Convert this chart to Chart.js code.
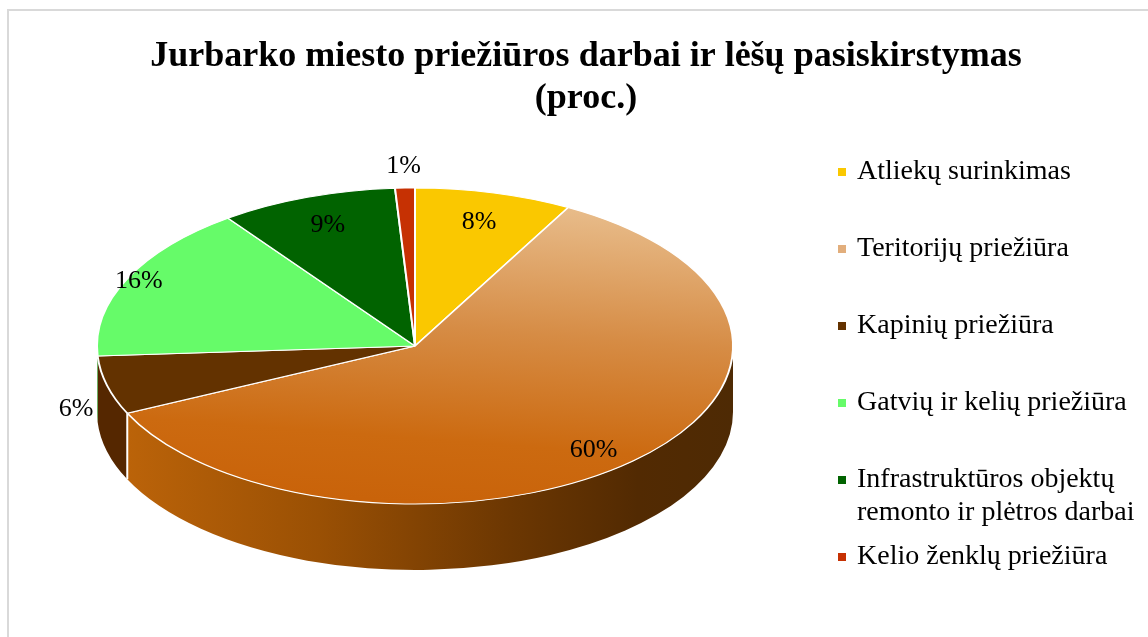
<!DOCTYPE html>
<html lang="lt">
<head>
    <meta charset="UTF-8">
    <title>Jurbarko miesto priežiūros darbai</title>
    <script src="https://cdn.jsdelivr.net/npm/chart.js"></script>
    <style>
        body { margin: 0; background: #fff; }
        canvas { display: block; }
    </style>
</head>
<body>
    <canvas id="pieChart" width="1148" height="637"></canvas>

    <script>
        // data
        const categories = [
            'Atliekų surinkimas',
            'Teritorijų priežiūra',
            'Kapinių priežiūra',
            'Gatvių ir kelių priežiūra',
            'Infrastruktūros objektų\nremonto ir plėtros darbai',
            'Kelio ženklų priežiūra'
        ];
        const shares = [8, 60, 6, 16, 9, 1];
        const shareLabels = ['8%', '60%', '6%', '16%', '9%', '1%'];
        const titleLines = ['Jurbarko miesto priežiūros darbai ir lėšų pasiskirstymas', '(proc.)'];

        // styles
        const sliceColors = ['#fac800', '#d98a45', '#633200', '#66fb69', '#016300', '#c63103'];
        const sideColors = ['#b08c00', '#8a4604', '#552700', '#3fb040', '#004000', '#8a2200'];
        const labelRadius = [0.81, 0.82, 1.1, 0.96, 0.81, 1.14];

        const radius = 318;
        const tilt = 158 / 318;
        const depth = 66;
        const serif = '"Liberation Serif", "Times New Roman", serif';

        function topGradient(chart) {
            const a = chart.chartArea;
            if (!a) return sliceColors[1];
            const ctx = chart.ctx;
            const cx = (a.left + a.right) / 2, cy = (a.top + a.bottom) / 2;
            const g = ctx.createLinearGradient(cx + 0.35 * radius, cy - radius, cx + 0.05 * radius, cy + radius);
            g.addColorStop(0, '#eac293');
            g.addColorStop(0.45, '#d68c45');
            g.addColorStop(0.8, '#cc6a10');
            g.addColorStop(1, '#c9630a');
            return g;
        }

        const pie3d = {
            id: 'pie3d',
            beforeDraw(chart) {
                const ctx = chart.ctx;
                ctx.save();
                ctx.fillStyle = '#fff';
                ctx.fillRect(0, 0, chart.width, chart.height);
                ctx.strokeStyle = '#d9d9d9';
                ctx.lineWidth = 2;
                ctx.beginPath();
                ctx.moveTo(8, chart.height);
                ctx.lineTo(8, 10);
                ctx.lineTo(chart.width, 10);
                ctx.stroke();

                // title
                ctx.fillStyle = '#000';
                ctx.font = 'bold 36px ' + serif;
                ctx.textAlign = 'center';
                ctx.textBaseline = 'alphabetic';
                titleLines.forEach((t, i) => ctx.fillText(t, 586, 66 + i * 42));

                // legend
                ctx.font = '28px ' + serif;
                ctx.textAlign = 'left';
                ctx.textBaseline = 'middle';
                categories.forEach((c, i) => {
                    const y = 172 + i * 77;
                    ctx.fillStyle = i === 1 ? '#e2ae7c' : sliceColors[i];
                    ctx.fillRect(838, y - 4, 8, 8);
                    ctx.fillStyle = '#000';
                    c.split('\n').forEach((line, j) => ctx.fillText(line, 857, y + j * 33));
                });
                ctx.restore();
            },
            beforeDatasetsDraw(chart) {
                const ctx = chart.ctx;
                const arcs = chart.getDatasetMeta(0).data;
                const cx = arcs[0].x, cy = arcs[0].y;
                const ry = radius * tilt;
                ctx.save();
                arcs.forEach((arc, i) => {
                    const a1 = Math.max(arc.startAngle, 0);
                    const a2 = Math.min(arc.endAngle, Math.PI);
                    if (a2 <= a1) return;
                    ctx.beginPath();
                    ctx.ellipse(cx, cy, radius, ry, 0, a1, a2, false);
                    ctx.ellipse(cx, cy + depth, radius, ry, 0, a2, a1, true);
                    ctx.closePath();
                    if (i === 1) {
                        const g = ctx.createLinearGradient(cx - radius, 0, cx + radius, 0);
                        g.addColorStop(0, '#c0660a');
                        g.addColorStop(0.35, '#9a5004');
                        g.addColorStop(0.65, '#6c3702');
                        g.addColorStop(0.85, '#522a02');
                        g.addColorStop(1, '#4e2a04');
                        ctx.fillStyle = g;
                    } else {
                        ctx.fillStyle = sideColors[i];
                    }
                    ctx.fill();
                });
                // white seams on the side
                ctx.strokeStyle = '#fff';
                ctx.lineWidth = 2;
                arcs.forEach(arc => {
                    const a = arc.endAngle;
                    if (a > 0.05 && a < Math.PI - 0.1) {
                        const x = cx + radius * Math.cos(a);
                        const y = cy + ry * Math.sin(a);
                        ctx.beginPath();
                        ctx.moveTo(x, y);
                        ctx.lineTo(x, y + depth);
                        ctx.stroke();
                    }
                });
                ctx.restore();

                // squash the flat pie into the tilted top face
                ctx.save();
                ctx.translate(cx, cy);
                ctx.scale(1, tilt);
                ctx.translate(-cx, -cy);
            },
            afterDatasetsDraw(chart) {
                const ctx = chart.ctx;
                ctx.restore();
                const arcs = chart.getDatasetMeta(0).data;
                ctx.save();
                ctx.font = '26px ' + serif;
                ctx.fillStyle = '#000';
                ctx.textAlign = 'center';
                ctx.textBaseline = 'middle';
                arcs.forEach((arc, i) => {
                    const mid = (arc.startAngle + arc.endAngle) / 2;
                    const f = labelRadius[i];
                    const x = arc.x + f * radius * Math.cos(mid);
                    let y = arc.y + f * radius * tilt * Math.sin(mid);
                    if (Math.sin(mid) > 0) y += depth * (f > 1 ? 0.3 : 0.15);
                    ctx.fillText(shareLabels[i], x, y);
                });
                ctx.restore();
            }
        };

        const ctx = document.getElementById('pieChart').getContext('2d');
        const chart = new Chart(ctx, {
            type: 'pie',
            data: {
                labels: categories,
                datasets: [{
                    data: shares,
                    backgroundColor: c => c.dataIndex === 1 ? topGradient(c.chart) : sliceColors[c.dataIndex],
                    borderColor: '#fff',
                    borderWidth: 2,
                    radius: radius,
                    clip: false
                }]
            },
            options: {
                responsive: false,
                animation: false,
                layout: { padding: { left: 20, right: 338, top: 120, bottom: 65 } },
                plugins: {
                    legend: { display: false },
                    title: { display: false },
                    tooltip: { enabled: false }
                }
            },
            plugins: [pie3d]
        });
    </script>
</body>
</html>
